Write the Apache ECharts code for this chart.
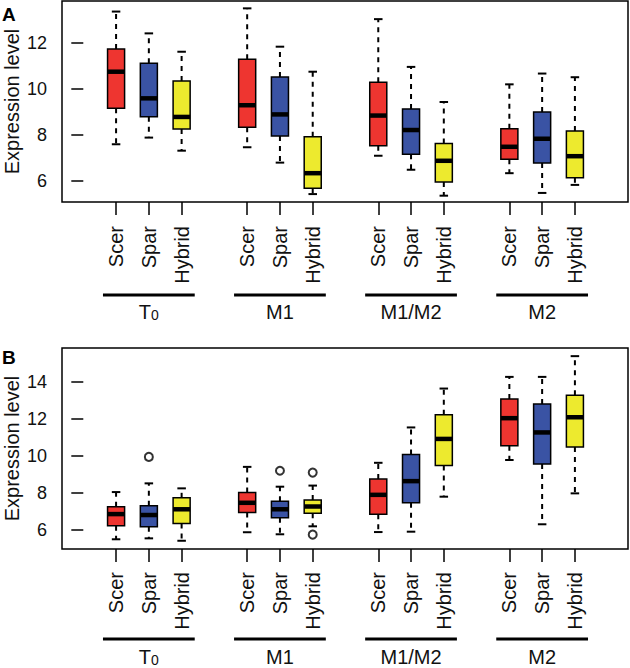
<!DOCTYPE html>
<html>
<head>
<meta charset="utf-8">
<script src="https://cdn.jsdelivr.net/npm/echarts@6/dist/echarts.min.js"></script>
<style>
html,body{margin:0;padding:0;background:#fff;}
#chart{width:630px;height:668px;}
</style>
</head>
<body>
<div id="chart"></div>
<script>
// ---------- data ----------
const SPECIES = ['Scer', 'Spar', 'Hybrid'];
const GROUPS = ['T0', 'M1', 'M1/M2', 'M2'];
const X_POS = [1, 2, 3, 5, 6, 7, 9, 10, 11, 13, 14, 15];
const GROUP_POS = [2, 6, 10, 14];
const Y_TICKS_A = [6, 8, 10, 12];
const Y_TICKS_B = [6, 8, 10, 12, 14];

// Panel A (T0 Scer, Spar, Hybrid, M1 ..., M1/M2 ..., M2 ...)
const aMin = [7.60, 7.89, 7.32, 7.47, 6.80, 5.43, 7.10, 6.49, 5.36, 6.34, 5.48, 5.83];
const aQ1  = [9.17, 8.80, 8.27, 8.34, 7.96, 5.68, 7.54, 7.16, 5.96, 6.95, 6.78, 6.14];
const aMed = [10.76, 9.60, 8.79, 9.30, 8.90, 6.34, 8.85, 8.22, 6.88, 7.49, 7.84, 7.08];
const aQ3  = [11.75, 11.13, 10.36, 11.30, 10.53, 7.93, 10.30, 9.14, 7.63, 8.28, 9.01, 8.18];
const aMax = [13.38, 12.43, 11.63, 13.52, 11.85, 10.76, 13.05, 10.97, 9.44, 10.21, 10.68, 10.52];

// Panel B
const bMin = [5.50, 5.55, 5.42, 5.88, 5.77, 6.20, 5.89, 5.91, 7.80, 9.78, 6.31, 7.98];
const bQ1  = [6.23, 6.18, 6.35, 6.95, 6.66, 6.90, 6.85, 7.47, 9.49, 10.55, 9.56, 10.49];
const bMed = [6.86, 6.81, 7.12, 7.47, 7.12, 7.27, 7.90, 8.64, 10.92, 12.04, 11.27, 12.09];
const bQ3  = [7.26, 7.31, 7.74, 8.03, 7.56, 7.62, 8.75, 10.08, 12.22, 13.07, 12.80, 13.28];
const bMax = [8.05, 8.52, 8.25, 9.41, 8.34, 8.40, 9.63, 11.54, 13.64, 14.27, 14.27, 15.39];
const bOutX = [2, 6, 7, 7];
const bOutY = [9.95, 9.20, 9.10, 5.75];

// ---------- styling ----------
const COLORS = ['#EE3530', '#3A53A4', '#EDEA2E'];
const FONT = 'Liberation Sans, Arial, Helvetica, sans-serif';
const TXT = '#111111';
const BOX_W = 0.52;       // box width in x units
const X_MIN = -0.65, X_MAX = 16.62;

function boxData(mn, q1, md, q3, mx) {
  return X_POS.map((x, i) => [x, mn[i], q1[i], md[i], q3[i], mx[i]]);
}

function renderBox(params, api) {
  const x = api.value(0);
  const pMin = api.coord([x, api.value(1)]);
  const pQ1 = api.coord([x, api.value(2)]);
  const pMd = api.coord([x, api.value(3)]);
  const pQ3 = api.coord([x, api.value(4)]);
  const pMax = api.coord([x, api.value(5)]);
  const hw = api.size([BOX_W, 0])[0] / 2;
  const ch = hw * 0.5;
  const cx = pMd[0];
  const color = COLORS[params.dataIndex % 3];
  const dashStyle = { stroke: '#000', lineWidth: 2, lineDash: [5, 5] };
  const solid = { stroke: '#000', lineWidth: 2 };
  return {
    type: 'group',
    children: [
      { type: 'line', shape: { x1: cx, y1: pQ3[1], x2: cx, y2: pMax[1] }, style: dashStyle },
      { type: 'line', shape: { x1: cx, y1: pQ1[1], x2: cx, y2: pMin[1] }, style: dashStyle },
      { type: 'line', shape: { x1: cx - ch, y1: pMax[1], x2: cx + ch, y2: pMax[1] }, style: solid },
      { type: 'line', shape: { x1: cx - ch, y1: pMin[1], x2: cx + ch, y2: pMin[1] }, style: solid },
      { type: 'rect', shape: { x: cx - hw, y: pQ3[1], width: hw * 2, height: pQ1[1] - pQ3[1] },
        style: { fill: color, stroke: '#000', lineWidth: 1.5 } },
      { type: 'line', shape: { x1: cx - hw, y1: pMd[1], x2: cx + hw, y2: pMd[1] },
        style: { stroke: '#000', lineWidth: 4.5 } }
    ]
  };
}

function groupText(g) {
  return g === 'T0' ? '{t|T}{s|0}' : '{t|' + g + '}';
}

function makeGroupRenderer(lineOff, labelOff) {
  return function (params, api) {
    const c = api.value(0);
    const bottom = params.coordSys.y + params.coordSys.height;
    const xl = api.coord([c - 1.4, 0])[0];
    const xr = api.coord([c + 1.4, 0])[0];
    const xc = api.coord([c, 0])[0];
    return {
      type: 'group',
      children: [
        { type: 'line', shape: { x1: xl, y1: bottom + lineOff, x2: xr, y2: bottom + lineOff },
          style: { stroke: '#000', lineWidth: 3 } },
        { type: 'text', x: xc, y: bottom + labelOff,
          style: {
            text: groupText(GROUPS[params.dataIndex]),
            align: 'center', verticalAlign: 'middle',
            rich: {
              t: { fontSize: 20, fontFamily: FONT, fill: TXT, lineHeight: 20 },
              s: { fontSize: 14, fontFamily: FONT, fill: TXT, lineHeight: 14, verticalAlign: 'bottom' }
            }
          } }
      ]
    };
  };
}

function xAxisDef(gridIndex, margin) {
  return {
    type: 'value', gridIndex: gridIndex, min: X_MIN, max: X_MAX,
    axisLine: { show: false, lineStyle: { color: '#000' } },
    splitLine: { show: false },
    axisTick: { show: true, length: 13, customValues: X_POS, lineStyle: { color: '#000', width: 1.5 } },
    axisLabel: {
      show: true, customValues: X_POS, rotate: 90, margin: margin,
      fontSize: 20, fontFamily: FONT, color: TXT,
      formatter: function (v) {
        const i = X_POS.indexOf(Math.round(v));
        return i >= 0 ? SPECIES[i % 3] : '';
      }
    }
  };
}

function yAxisDef(gridIndex, min, max, ticks) {
  return {
    type: 'value', gridIndex: gridIndex, min: min, max: max,
    name: 'Expression level', nameLocation: 'middle', nameGap: 40, nameMoveOverlap: false,
    nameTextStyle: { fontSize: 20, fontFamily: FONT, color: '#111111' },
    axisLine: { show: false, lineStyle: { color: '#000' } },
    splitLine: { show: false },
    axisTick: { show: true, length: 12, customValues: ticks, lineStyle: { color: '#000', width: 1.5 } },
    axisLabel: { show: true, customValues: ticks, margin: 15, fontSize: 18, fontFamily: FONT, color: TXT }
  };
}

const groupData = GROUP_POS.map(p => [p, 0]);

const chart = echarts.init(document.getElementById('chart'), null, { renderer: 'svg' });
chart.setOption({
  animation: false,
  backgroundColor: '#fff',
  textStyle: { color: '#111111', fontFamily: FONT },
  grid: [
    { left: 62, right: 2, top: 1, height: 201, show: true, borderColor: '#000', borderWidth: 1.5,
      backgroundColor: 'transparent', containLabel: false, outerBoundsMode: 'none' },
    { left: 62, right: 2, top: 348, height: 201, show: true, borderColor: '#000', borderWidth: 1.5,
      backgroundColor: 'transparent', containLabel: false, outerBoundsMode: 'none' }
  ],
  xAxis: [xAxisDef(0, 24), xAxisDef(1, 23)],
  yAxis: [yAxisDef(0, 5.085, 13.84, Y_TICKS_A), yAxisDef(1, 4.975, 15.83, Y_TICKS_B)],
  graphic: [
    { type: 'text', left: 2, top: 5, style: { text: 'A', fontSize: 19, fontWeight: 'bold', fontFamily: FONT, fill: '#000' } },
    { type: 'text', left: 2, top: 348, style: { text: 'B', fontSize: 19, fontWeight: 'bold', fontFamily: FONT, fill: '#000' } }
  ],
  series: [
    { type: 'custom', xAxisIndex: 0, yAxisIndex: 0, renderItem: renderBox,
      encode: { x: 0, y: [1, 2, 3, 4, 5] }, data: boxData(aMin, aQ1, aMed, aQ3, aMax), clip: false },
    { type: 'custom', xAxisIndex: 1, yAxisIndex: 1, renderItem: renderBox,
      encode: { x: 0, y: [1, 2, 3, 4, 5] }, data: boxData(bMin, bQ1, bMed, bQ3, bMax), clip: false },
    { type: 'scatter', xAxisIndex: 1, yAxisIndex: 1, symbol: 'circle', symbolSize: 8,
      itemStyle: { color: '#fff', borderColor: '#000', borderWidth: 2 },
      data: bOutX.map((x, i) => [x, bOutY[i]]) },
    { type: 'custom', xAxisIndex: 0, yAxisIndex: 0, renderItem: makeGroupRenderer(93, 110),
      encode: { x: 0, y: 1 }, data: groupData, clip: false, silent: true },
    { type: 'custom', xAxisIndex: 1, yAxisIndex: 1, renderItem: makeGroupRenderer(90, 108),
      encode: { x: 0, y: 1 }, data: groupData, clip: false, silent: true }
  ]
});
</script>
</body>
</html>
